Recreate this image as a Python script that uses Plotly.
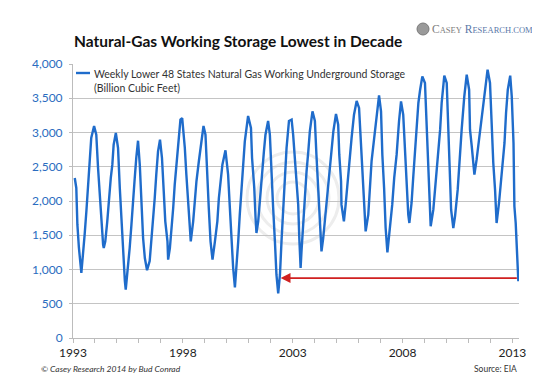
import plotly.graph_objects as go

# Traced series: fractional year on the chart's axis, storage in Bcf
years = [
    1993.08, 1993.15, 1993.20, 1993.27, 1993.38, 1993.46, 1993.53, 1993.61, 1993.68, 1993.76, 1993.83, 1993.96,
    1994.06, 1994.14, 1994.22, 1994.29, 1994.37, 1994.40, 1994.47, 1994.56, 1994.63, 1994.72, 1994.79, 1994.85, 1994.95,
    1995.05, 1995.13, 1995.20, 1995.28, 1995.36, 1995.40, 1995.51, 1995.58, 1995.66, 1995.73, 1995.81, 1995.88, 1995.96,
    1996.04, 1996.11, 1996.19, 1996.27, 1996.37, 1996.49, 1996.57, 1996.64, 1996.72, 1996.79, 1996.87, 1996.96,
    1997.05, 1997.13, 1997.20, 1997.30, 1997.33, 1997.41, 1997.48, 1997.56, 1997.63, 1997.71, 1997.78, 1997.89, 1997.97,
    1998.09, 1998.16, 1998.24, 1998.32, 1998.36, 1998.47, 1998.54, 1998.62, 1998.73, 1998.82, 1998.94,
    1999.03, 1999.10, 1999.18, 1999.26, 1999.35, 1999.46, 1999.57, 1999.64, 1999.73, 1999.80, 1999.94,
    2000.06, 2000.14, 2000.21, 2000.29, 2000.37, 2000.44, 2000.52, 2000.59, 2000.67, 2000.74, 2000.82, 2000.97,
    2001.10, 2001.15, 2001.25, 2001.31, 2001.35, 2001.43, 2001.51, 2001.58, 2001.69, 2001.76, 2001.88,
    2001.96, 2002.03, 2002.11, 2002.19, 2002.26, 2002.34, 2002.42, 2002.49, 2002.57, 2002.64, 2002.72, 2002.83, 2002.95,
    2003.02, 2003.10, 2003.25, 2003.30, 2003.33, 2003.36, 2003.40, 2003.48, 2003.56, 2003.63, 2003.71, 2003.78, 2003.90,
    2004.01, 2004.08, 2004.16, 2004.24, 2004.31, 2004.39, 2004.49, 2004.62, 2004.69, 2004.77, 2004.85, 2004.97,
    2005.07, 2005.12, 2005.20, 2005.22, 2005.33, 2005.41, 2005.50, 2005.61, 2005.68, 2005.79, 2005.91,
    2006.02, 2006.11, 2006.17, 2006.26, 2006.32, 2006.44, 2006.52, 2006.59, 2006.71, 2006.82, 2006.93,
    2007.02, 2007.08, 2007.16, 2007.23, 2007.31, 2007.43, 2007.53, 2007.62, 2007.73, 2007.84, 2007.93,
    2008.03, 2008.11, 2008.18, 2008.26, 2008.31, 2008.41, 2008.49, 2008.57, 2008.64, 2008.72, 2008.80, 2008.90,
    2009.02, 2009.10, 2009.17, 2009.22, 2009.28, 2009.40, 2009.48, 2009.60, 2009.71, 2009.78, 2009.90,
    2010.01, 2010.08, 2010.16, 2010.21, 2010.31, 2010.39, 2010.51, 2010.62, 2010.69, 2010.81, 2010.92,
    2011.03, 2011.07, 2011.15, 2011.22, 2011.27, 2011.37, 2011.48, 2011.60, 2011.72, 2011.87,
    2011.98, 2012.06, 2012.13, 2012.21, 2012.28, 2012.39, 2012.51, 2012.64, 2012.71, 2012.79, 2012.90,
    2012.97, 2013.05, 2013.09, 2013.15, 2013.20, 2013.24, 2013.27,
]
storage_bcf = [
    2336, 2190, 1654, 1314, 950, 1216, 1508, 1854, 2238, 2584, 2920, 3095,
    2968, 2482, 2092, 1606, 1362, 1314, 1411, 1703, 2044, 2336, 2530, 2822, 2993,
    2774, 2190, 1752, 1168, 832, 705, 1022, 1314, 1654, 2044, 2336, 2628, 2880,
    2530, 2000, 1460, 1168, 990, 1124, 1411, 1703, 2044, 2384, 2725, 2896,
    2628, 2141, 1703, 1411, 1144, 1314, 1557, 1898, 2238, 2530, 2822, 3187, 3210,
    2774, 2384, 2000, 1654, 1411, 1703, 2000, 2292, 2584, 2822, 3095,
    2968, 2384, 1898, 1411, 1144, 1411, 1703, 2044, 2336, 2530, 2740,
    2384, 1898, 1411, 1022, 740, 1022, 1411, 1800, 2190, 2584, 2871, 3241,
    3066, 2628, 2190, 1752, 1533, 1703, 2044, 2384, 2725, 2968, 3168,
    2968, 2384, 1898, 1411, 924, 650, 924, 1411, 1898, 2384, 2774, 3168, 3187,
    2968, 2628, 1947, 1460, 1168, 1022, 1265, 1703, 2190, 2433, 2725, 3017, 3309,
    3168, 2676, 2190, 1703, 1265, 1460, 1800, 2190, 2482, 2725, 3017, 3270,
    3114, 2676, 2292, 1947, 1703, 1947, 2292, 2676, 2920, 3260, 3460,
    3358, 2871, 2384, 1947, 1557, 1800, 2190, 2584, 2920, 3260, 3543,
    3309, 2676, 2190, 1606, 1250, 1606, 1947, 2336, 2676, 3168, 3455,
    3260, 2676, 2190, 1800, 1679, 1971, 2365, 2750, 3139, 3431, 3625, 3820,
    3723, 3041, 2409, 1971, 1631, 1873, 2165, 2653, 3041, 3431, 3830,
    3723, 3041, 2409, 1873, 1606, 1781, 2165, 2750, 3041, 3528, 3845,
    3625, 3041, 2799, 2507, 2384, 2604, 2896, 3187, 3528, 3918,
    3723, 2945, 2555, 2165, 1679, 1971, 2409, 2847, 3285, 3625, 3830,
    3528, 2847, 1923, 1679, 1197, 997, 828,
]

tick_years = [1993, 1998, 2003, 2008, 2013]
tick_labels = ["1993", "1998", "2003", "2008", "2013"]
y_ticks = [0, 500, 1000, 1500, 2000, 2500, 3000, 3500, 4000]

arrow_level = 875
arrow_from_year = 2013.27
arrow_to_year = 2002.45

title_text = "Natural-Gas Working Storage Lowest in Decade"
series_name = "Weekly Lower 48 States Natural Gas Working Underground Storage"
series_unit = "(Billion Cubic Feet)"
credit_text = "© Casey Research 2014 by Bud Conrad"
source_text = "Source: EIA"

BLUE = "#1f6ccb"
FONT = "Lato"

fig = go.Figure()
fig.add_trace(go.Scatter(
    x=years, y=storage_bcf, mode="lines",
    line=dict(color=BLUE, width=2.4),
    name=series_name, showlegend=False, hoverinfo="skip",
))

# layout geometry in pixels
W, H = 540, 380
L, R, T, B = 65, 29, 56, 50
pw, ph = W - L - R, H - T - B

def px(xp):
    return (xp - L) / pw

def py(yp):
    return (H - B - yp) / ph

shapes = []
# faint watermark rings
cx, cy = 285, 190
for r in (46, 36, 26, 16):
    shapes.append(dict(type="circle", xref="paper", yref="paper",
                       x0=px(cx - r), x1=px(cx + r), y0=py(cy + r), y1=py(cy - r),
                       line=dict(color="#ededed", width=3), layer="below"))
# legend line sample
shapes.append(dict(type="line", xref="paper", yref="paper",
                   x0=px(68), x1=px(82), y0=py(65), y1=py(65),
                   line=dict(color=BLUE, width=2.4)))
# logo mark
shapes.append(dict(type="circle", xref="paper", yref="paper",
                   x0=px(409), x1=px(421), y0=py(27), y1=py(15),
                   fillcolor="#9a9a9a", line=dict(color="#7a7a7a", width=1)))

annotations = [
    dict(xref="paper", yref="paper", x=px(64), y=py(33), xanchor="left", yanchor="middle",
         text="<b>" + title_text + "</b>", showarrow=False,
         font=dict(family=FONT, size=15.5, color="#111111")),
    dict(xref="paper", yref="paper", x=px(422), y=py(21), xanchor="left", yanchor="middle",
         text="<span style='color:#7d7d7d'>C<span style='font-size:8.5px'>ASEY</span></span> "
              "<span style='color:#5a78a8'>R<span style='font-size:8.5px'>ESEARCH.COM</span></span>",
         showarrow=False, font=dict(family="Liberation Serif", size=11.5)),
    dict(xref="paper", yref="paper", x=px(84), y=py(58), xanchor="left", yanchor="top",
         text=series_name + "<br>" + series_unit, align="left", showarrow=False,
         font=dict(family=FONT, size=10.5, color="#333333")),
    dict(xref="paper", yref="paper", x=px(31), y=py(361), xanchor="left", yanchor="middle",
         text="<i>" + credit_text + "</i>", showarrow=False,
         font=dict(family=FONT, size=8.5, color="#333333")),
    dict(xref="paper", yref="paper", x=px(511), y=py(361), xanchor="right", yanchor="middle",
         text=source_text, showarrow=False,
         font=dict(family=FONT, size=8.5, color="#333333")),
    dict(x=arrow_to_year, y=arrow_level, ax=arrow_from_year, ay=arrow_level,
         xref="x", yref="y", axref="x", ayref="y", text="", showarrow=True,
         arrowhead=2, arrowsize=1.1, arrowwidth=1.8, arrowcolor="#d02020", standoff=0),
]

fig.update_layout(
    width=W, height=H,
    margin=dict(l=L, r=R, t=T, b=B, pad=0),
    paper_bgcolor="white", plot_bgcolor="white",
    font=dict(family=FONT),
    shapes=shapes, annotations=annotations,
    xaxis=dict(range=[1993, 2013.3], tickvals=tick_years, ticktext=tick_labels,
               showgrid=False, zeroline=False, showline=True, linecolor="#bcbcbc", linewidth=1,
               ticks="outside", ticklen=4, tickcolor="#bcbcbc",
               minor=dict(dtick=1, tick0=1993, ticks="outside", ticklen=4, tickcolor="#bcbcbc", showgrid=False),
               tickfont=dict(family=FONT, size=12, color="#222222")),
    yaxis=dict(range=[0, 4000], tickvals=y_ticks, tickformat=",",
               showgrid=True, gridcolor="#c4c4c4", gridwidth=1, zeroline=False,
               showline=True, linecolor="#bcbcbc", linewidth=1,
               ticks="outside", ticklen=3, tickcolor="#bcbcbc",
               ticklabelstandoff=4,
               tickfont=dict(family=FONT, size=12, color="#2a6cc0")),
)

fig.write_html("out.html")
